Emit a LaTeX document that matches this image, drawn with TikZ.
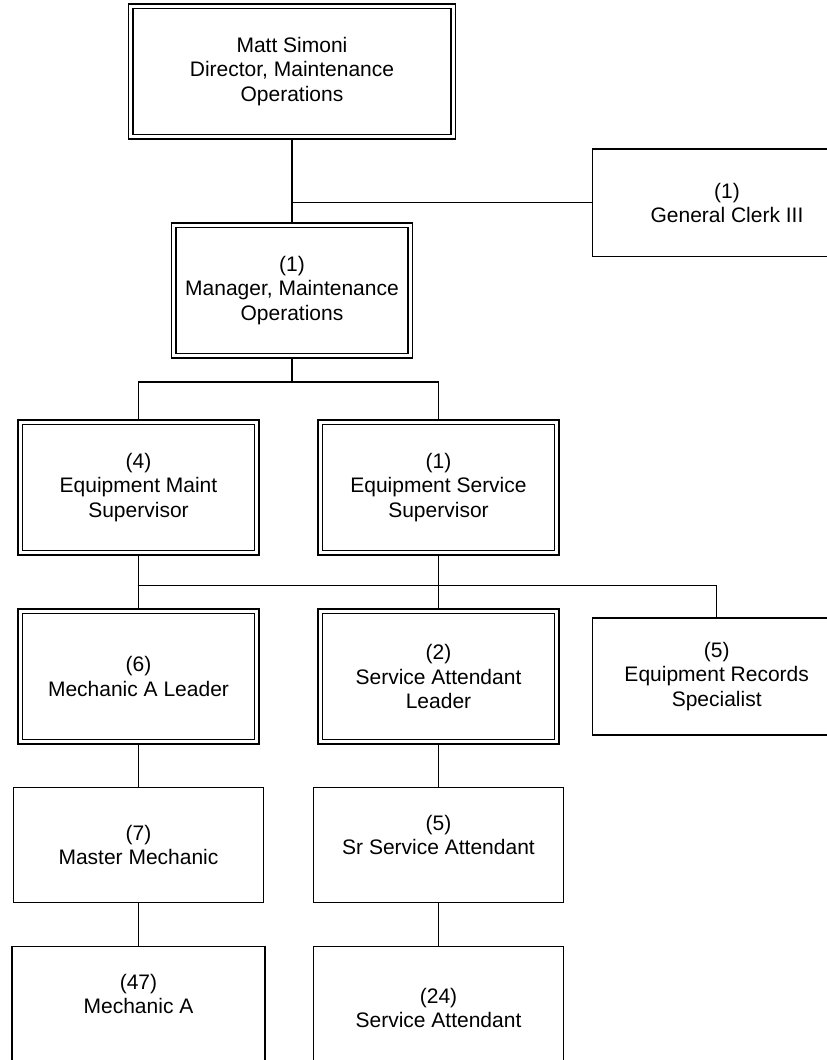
\documentclass[tikz,border=0pt]{standalone}
\usepackage{fontspec}
\setmainfont{Liberation Sans}
\usepackage{tikz}
\usetikzlibrary{positioning}

\begin{document}
\begin{tikzpicture}[x=1pt, y=-1pt, line width=1.2pt, every node/.style={font=\fontsize{21}{24.5}\selectfont}]
\tikzstyle{box}=[rectangle, draw, align=center, inner sep=0pt, minimum width=250pt, minimum height=115.4pt]
\tikzstyle{dbox}=[box, double, double distance=3.3pt, outer sep=2.85pt, minimum width=236.5pt, minimum height=130.5pt]
\useasboundingbox (0,0) rectangle (827,1060);
\clip (0,0) rectangle (827,1060);
% top of the chart
\node[dbox, minimum width=322.5pt] (director) at (292,71.5) {Matt Simoni\\Director, Maintenance\\Operations};
\node[dbox] (manager) at (292,290.5) {(1)\\Manager, Maintenance\\Operations};
\node[box, minimum width=269pt, minimum height=107.7pt] (clerk) at (727,202.8) {(1)\\General Clerk III};
% supervisors
\node[dbox] (ems) at (138.5,487.5) {(4)\\Equipment Maint\\Supervisor};
\node[dbox] (ess) at (438.5,487.5) {(1)\\Equipment Service\\Supervisor};
% leaders
\node[dbox] (mal) at (138.5,676.5) {(6)\\Mechanic A Leader};
\node[dbox] (sal) at (438.5,676.5) {(2)\\Service Attendant\\Leader};
\node[box, minimum width=248.7pt, minimum height=117pt] (recs) at (716.7,676.5) {(5)\\Equipment Records\\Specialist};
% staff
\node[box, minimum width=250.7pt] (mm) at (138.5,845) {(7)\\Master Mechanic};
\node[box] (ssa) at (438.5,845) {(5)\\Sr Service Attendant\\[-4pt]};
\node[box, minimum width=253pt, minimum height=150pt, anchor=north] (mecha) at (138.5,946) {(47)\\Mechanic A\\[31pt]};
\node[box, minimum height=150pt, anchor=north] (sa) at (438.5,946) {(24)\\Service Attendant\\[3pt]};
% connectors
\coordinate (mbus) at (292,382);
\coordinate (sbus) at (438.5,585.7);
\draw (director.south) -- (manager.north);
\draw (clerk.west) -- (clerk.west -| director.south);
\draw (manager.south) -- (mbus);
\draw (ems.north) |- (mbus) -| (ess.north);
\draw (ems.south) -- (mal.north);
\draw (ess.south) -- (sal.north);
\draw (mal.north |- sbus) -| (recs.north);
\draw (mal.south) -- (mm.north);
\draw (mm.south) -- (mecha.north);
\draw (sal.south) -- (ssa.north);
\draw (ssa.south) -- (sa.north);
\end{tikzpicture}
\end{document}
